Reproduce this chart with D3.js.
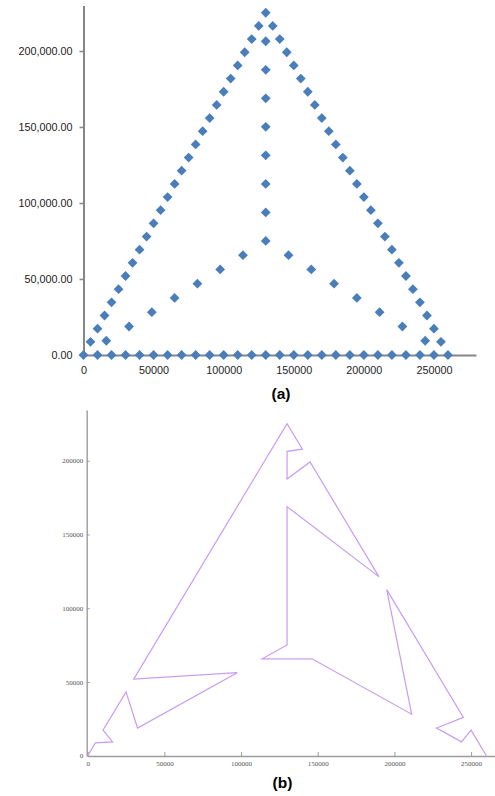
<!DOCTYPE html>
<html>
<head>
<meta charset="utf-8">
<script src="https://cdn.jsdelivr.net/npm/d3@7"></script>
<style>
  body { margin: 0; background: #fff; }
  svg { display: block; }
</style>
</head>
<body>
<div id="chart"></div>
<script>
// panel (a): scatter of the points
var bottomX = [0, 10000, 20000, 30000, 40000, 50000, 60000, 70000, 80000, 90000, 100000, 110000, 120000,
  130000, 140000, 150000, 160000, 170000, 180000, 190000, 200000, 210000, 220000, 230000, 240000, 250000, 260000];
var edgeY = [8660, 17320, 25980, 34640, 43300, 51960, 60620, 69280, 77940, 86600, 95260, 103920, 112580,
  121240, 129900, 138560, 147220, 155880, 164540, 173200, 181860, 190520, 199180, 207840, 216500];
var leftEdgeX = [5000, 10000, 15000, 20000, 25000, 30000, 35000, 40000, 45000, 50000, 55000, 60000, 65000,
  70000, 75000, 80000, 85000, 90000, 95000, 100000, 105000, 110000, 115000, 120000, 125000];
var rightEdgeX = [255000, 250000, 245000, 240000, 235000, 230000, 225000, 220000, 215000, 210000, 205000, 200000, 195000,
  190000, 185000, 180000, 175000, 170000, 165000, 160000, 155000, 150000, 145000, 140000, 135000];
var apex = [130000, 225170];
var centerY = [75060, 93820, 112580, 131350, 150110, 168880, 187640, 206400];
var innerLeftX = [16250, 32500, 48750, 65000, 81250, 97500, 113750];
var innerRightX = [243750, 227500, 211250, 195000, 178750, 162500, 146250];
var innerY = [9380, 18760, 28150, 37530, 46910, 56290, 65670];

// panel (b): tour through the points
var tour = [
  [0, 0], [5000, 8660], [16250, 9380], [10000, 17320], [25000, 43300], [32500, 18760],
  [97500, 56290], [30000, 51960], [130000, 225170], [140000, 207840], [130000, 206400],
  [130000, 187640], [145000, 199180], [190000, 121240], [130000, 168880], [130000, 75060],
  [113750, 65670], [146250, 65670], [211250, 28150], [195000, 112580], [245000, 25980],
  [227500, 18760], [243750, 9380], [250000, 17320], [260000, 0]
];

var yTicksA = [0, 50000, 100000, 150000, 200000];
var xTicksA = [0, 50000, 100000, 150000, 200000, 250000];
var yTicksB = [0, 50000, 100000, 150000, 200000];
var xTicksB = [0, 50000, 100000, 150000, 200000, 250000];

var points = [];
bottomX.forEach(function(x) { points.push([x, 0]); });
leftEdgeX.forEach(function(x, i) { points.push([x, edgeY[i]]); });
rightEdgeX.forEach(function(x, i) { points.push([x, edgeY[i]]); });
points.push(apex);
centerY.forEach(function(y) { points.push([130000, y]); });
innerLeftX.forEach(function(x, i) { points.push([x, innerY[i]]); });
innerRightX.forEach(function(x, i) { points.push([x, innerY[i]]); });

var svg = d3.select("#chart")
  .append("svg")
  .attr("width", 495)
  .attr("height", 796);

// ---- (a)
var xA = d3.scaleLinear().domain([0, 280000]).range([83.5, 476]);
var yA = d3.scaleLinear().domain([0, 230000]).range([355, 5.4]);

var gA = svg.append("g");

var yAxisA = gA.append("g")
  .attr("transform", "translate(83.5,0)")
  .call(d3.axisLeft(yA).tickValues(yTicksA).tickSize(4).tickSizeOuter(0).tickPadding(7).tickFormat(d3.format(",.2f")));

var xAxisA = gA.append("g")
  .attr("transform", "translate(0,355)")
  .call(d3.axisBottom(xA).tickValues(xTicksA).tickSize(0).tickPadding(11).tickFormat(d3.format("d")));

[yAxisA, xAxisA].forEach(function(ax) {
  ax.select(".domain").attr("stroke", "#868686").attr("stroke-width", 2);
  ax.selectAll(".tick line").attr("stroke", "#868686").attr("stroke-width", 1.5);
  ax.selectAll("text")
    .attr("font-family", "'Liberation Sans', Arial, sans-serif")
    .attr("font-size", 10.8)
    .attr("fill", "#222");
});

var diamond = d3.symbol().type(d3.symbolSquare).size(48);
gA.append("g")
  .selectAll("path")
  .data(points)
  .join("path")
  .attr("d", diamond)
  .attr("transform", d => `translate(${xA(d[0])},${yA(d[1])}) rotate(45)`)
  .attr("fill", "#4a7ebb");

svg.append("text")
  .attr("x", 281)
  .attr("y", 398.5)
  .attr("text-anchor", "middle")
  .attr("font-family", "'Liberation Sans', Arial, sans-serif")
  .attr("font-weight", "bold")
  .attr("font-size", 15.5)
  .text("(a)");

// ---- (b)
var xB = d3.scaleLinear().domain([0, 265600]).range([87.7, 495]);
var yB = d3.scaleLinear().domain([0, 234400]).range([755.7, 410]);

var gB = svg.append("g");

var yAxisB = gB.append("g")
  .attr("transform", "translate(86.7,0)")
  .call(d3.axisLeft(yB).tickValues(yTicksB).tickSize(-3).tickSizeOuter(0).tickPadding(3.5).tickFormat(d3.format("d")));

var xAxisB = gB.append("g")
  .attr("transform", "translate(0,756)")
  .call(d3.axisBottom(xB).tickValues(xTicksB).tickSize(-4).tickSizeOuter(0).tickPadding(5).tickFormat(d3.format("d")));

[yAxisB, xAxisB].forEach(function(ax) {
  ax.select(".domain").attr("stroke", "#9c9c9c").attr("stroke-width", 1.4);
  ax.selectAll(".tick line").attr("stroke", "#9c9c9c");
  ax.selectAll("text")
    .attr("font-family", "'Liberation Serif', 'Times New Roman', serif")
    .attr("font-size", 7)
    .attr("fill", "#555");
});

var line = d3.line()
  .x(d => xB(d[0]))
  .y(d => yB(d[1]));

gB.append("path")
  .datum(tour)
  .attr("d", line)
  .attr("fill", "none")
  .attr("stroke", "#c99cf2")
  .attr("stroke-width", 1.2)
  .attr("stroke-linejoin", "miter");

svg.append("text")
  .attr("x", 282.5)
  .attr("y", 788)
  .attr("text-anchor", "middle")
  .attr("font-family", "'Liberation Sans', Arial, sans-serif")
  .attr("font-weight", "bold")
  .attr("font-size", 15.5)
  .text("(b)");
</script>
</body>
</html>
